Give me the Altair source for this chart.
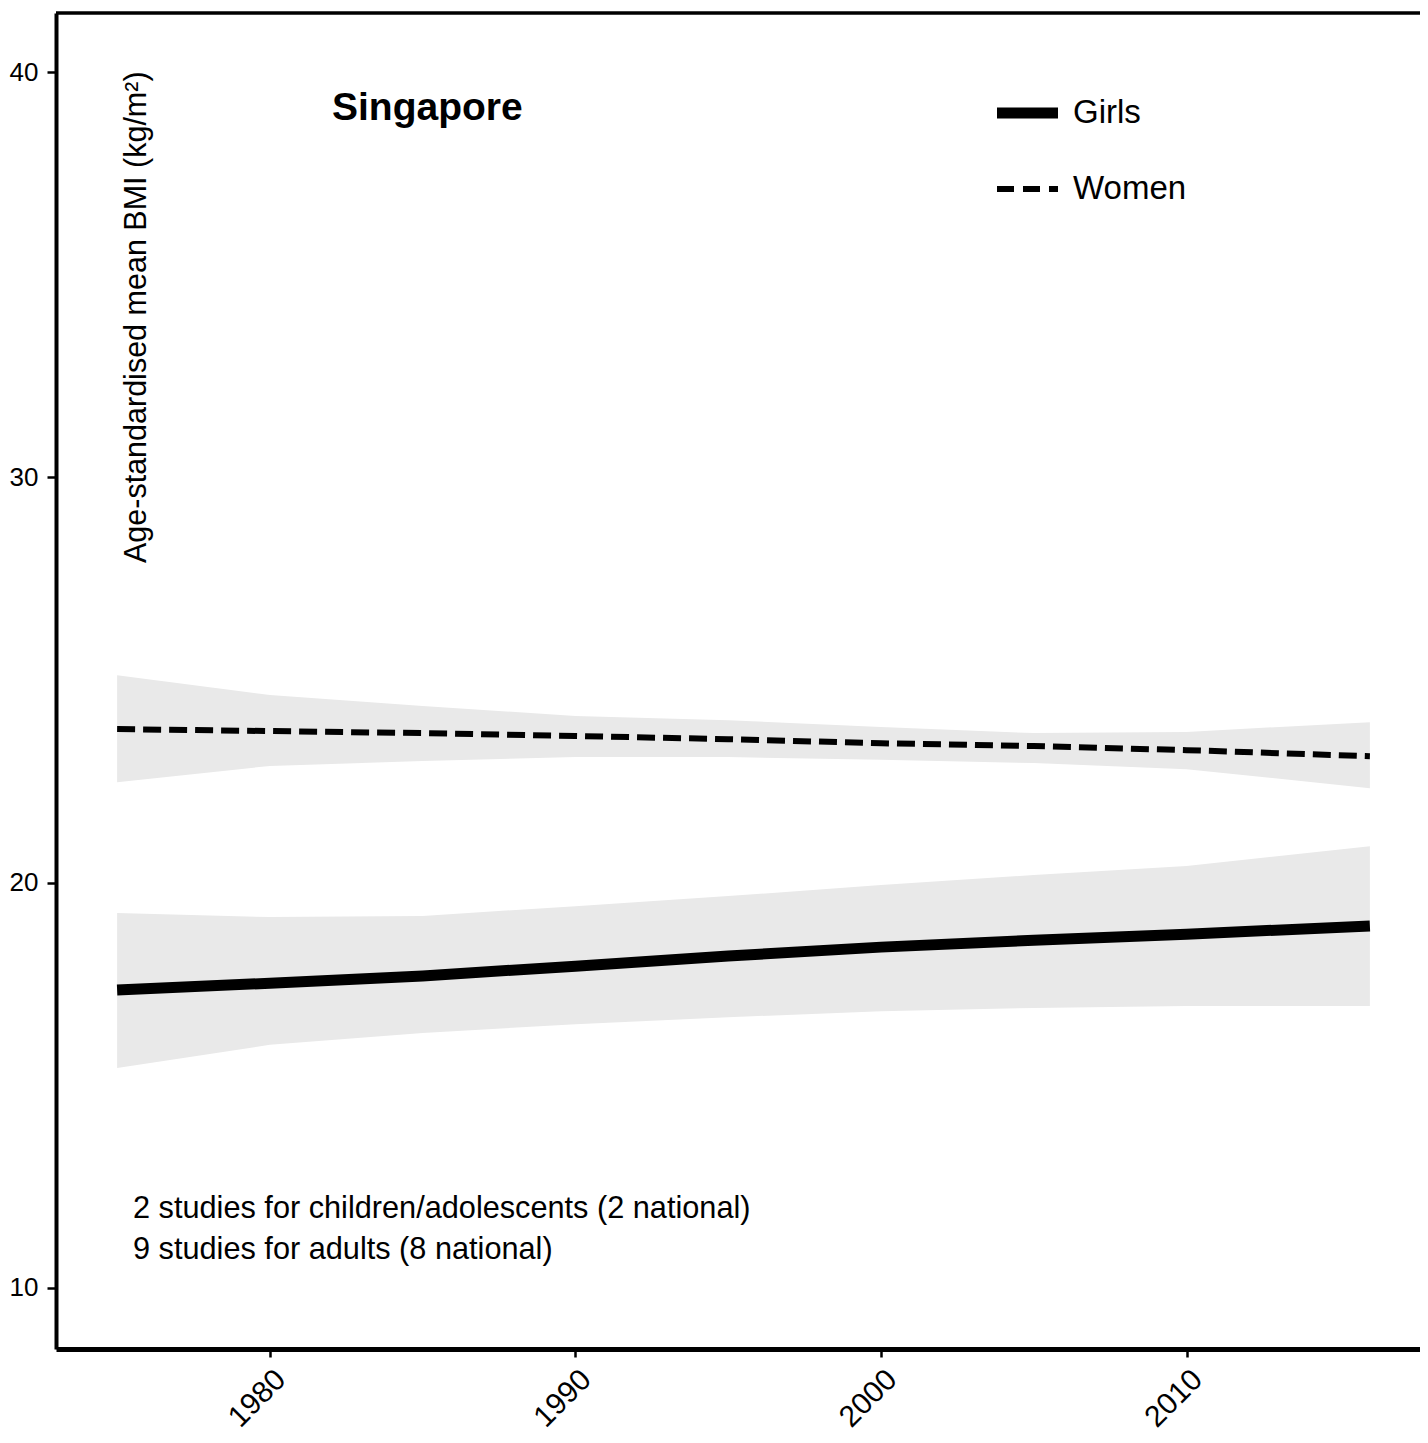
import altair as alt
import pandas as pd

# ---- data ----
years = [1975, 1980, 1985, 1990, 1995, 2000, 2005, 2010, 2016]

girls_mean = [17.35, 17.52, 17.70, 17.94, 18.19, 18.41, 18.58, 18.73, 18.93]
girls_lo = [15.43, 16.00, 16.29, 16.51, 16.68, 16.83, 16.91, 16.96, 16.96]
girls_hi = [19.25, 19.15, 19.18, 19.42, 19.67, 19.94, 20.19, 20.41, 20.90]

women_mean = [23.79, 23.74, 23.69, 23.62, 23.54, 23.44, 23.37, 23.27, 23.12]
women_lo = [22.48, 22.88, 23.00, 23.10, 23.10, 23.03, 22.95, 22.80, 22.33]
women_hi = [25.12, 24.63, 24.36, 24.11, 24.01, 23.84, 23.69, 23.72, 23.96]

series_names = ["Girls", "Women"]
country = "Singapore"
y_title = "Age-standardised mean BMI (kg/m²)"
notes = ["2 studies for children/adolescents (2 national)",
         "9 studies for adults (8 national)"]
x_ticks = [1980, 1990, 2000, 2010]
y_ticks = [10, 20, 30, 40]

# ---- tables ----
girls = pd.DataFrame({"year": years, "mean": girls_mean, "lo": girls_lo, "hi": girls_hi})
women = pd.DataFrame({"year": years, "mean": women_mean, "lo": women_lo, "hi": women_hi})

W, H = 1364, 1336
FONT = "Liberation Sans"

xs = alt.Scale(domain=[1973, 2017.64], nice=False, zero=False)
ys = alt.Scale(domain=[8.495, 41.456], nice=False, zero=False)

x_enc = alt.X("year:Q", scale=xs, axis=alt.Axis(
    values=x_ticks, format="d", title=None, labelAngle=-45, labelAlign="right",
    labelBaseline="top", labelFontSize=30, labelFont=FONT, labelColor="black",
    tickSize=8, tickWidth=2.5, tickColor="black", domainWidth=5, domainColor="black",
    labelPadding=7, grid=False))
y_axis = alt.Axis(values=y_ticks, title=None, labelFontSize=26, labelFont=FONT,
                  labelColor="black", tickSize=9, tickWidth=2.5, tickColor="black",
                  domainWidth=4, domainColor="black", labelPadding=9, grid=False)

band_color = "#e9e9e9"

def band(df):
    return alt.Chart(df).mark_area(color=band_color, opacity=1).encode(
        x=x_enc,
        y=alt.Y("lo:Q", scale=ys, axis=y_axis),
        y2="hi:Q",
    )

girls_band = band(girls)
women_band = band(women)

girls_line = alt.Chart(girls).mark_line(color="black", strokeWidth=11).encode(
    x=x_enc, y=alt.Y("mean:Q", scale=ys, axis=y_axis))
women_line = alt.Chart(women).mark_line(color="black", strokeWidth=6,
                                        strokeDash=[18, 8]).encode(
    x=x_enc, y=alt.Y("mean:Q", scale=ys, axis=y_axis))

# frame top line
top_rule = alt.Chart(pd.DataFrame({"a": [0]})).mark_rule(
    color="black", strokeWidth=3.5).encode(
    x=alt.value(0), x2=alt.value(W), y=alt.value(0))

# y title inside plot
ytitle = alt.Chart(pd.DataFrame({"t": [y_title]})).mark_text(
    angle=270, align="left", baseline="middle", fontSize=30.5, font=FONT,
    color="black").encode(x=alt.value(81), y=alt.value(550), text="t:N")

country_txt = alt.Chart(pd.DataFrame({"t": [country]})).mark_text(
    align="left", baseline="middle", fontSize=39, font=FONT, fontWeight="bold",
    color="black").encode(x=alt.value(276), y=alt.value(95), text="t:N")

notes_df = pd.DataFrame({"t": notes, "yy": [1196, 1237]})
notes_txt = alt.Chart(notes_df).mark_text(
    align="left", baseline="middle", fontSize=30.7, font=FONT, color="black").encode(
    x=alt.value(77), y=alt.Y("yy:Q", scale=None), text="t:N")

# legend
leg_df = pd.DataFrame({"t": series_names, "yy": [100, 176]})
leg_txt = alt.Chart(leg_df).mark_text(
    align="left", baseline="middle", fontSize=33, font=FONT, color="black").encode(
    x=alt.value(1017), y=alt.Y("yy:Q", scale=None), text="t:N")
leg_girls = alt.Chart(pd.DataFrame({"a": [0]})).mark_rule(
    color="black", strokeWidth=11).encode(
    x=alt.value(941), x2=alt.value(1002), y=alt.value(100))
leg_women = alt.Chart(pd.DataFrame({"a": [0]})).mark_rule(
    color="black", strokeWidth=6, strokeDash=[17, 9]).encode(
    x=alt.value(941), x2=alt.value(1002), y=alt.value(176))

chart = alt.layer(
    women_band, girls_band, women_line, girls_line, top_rule,
    ytitle, country_txt, notes_txt, leg_txt, leg_girls, leg_women
).properties(
    width=W, height=H,
    autosize=alt.AutoSizeParams(type="none"),
    padding={"left": 48, "top": 5, "right": 0, "bottom": 86},
).configure_view(stroke=None).configure(background="white")

chart.save("out.html", embed_options={"renderer": "svg", "actions": False})
